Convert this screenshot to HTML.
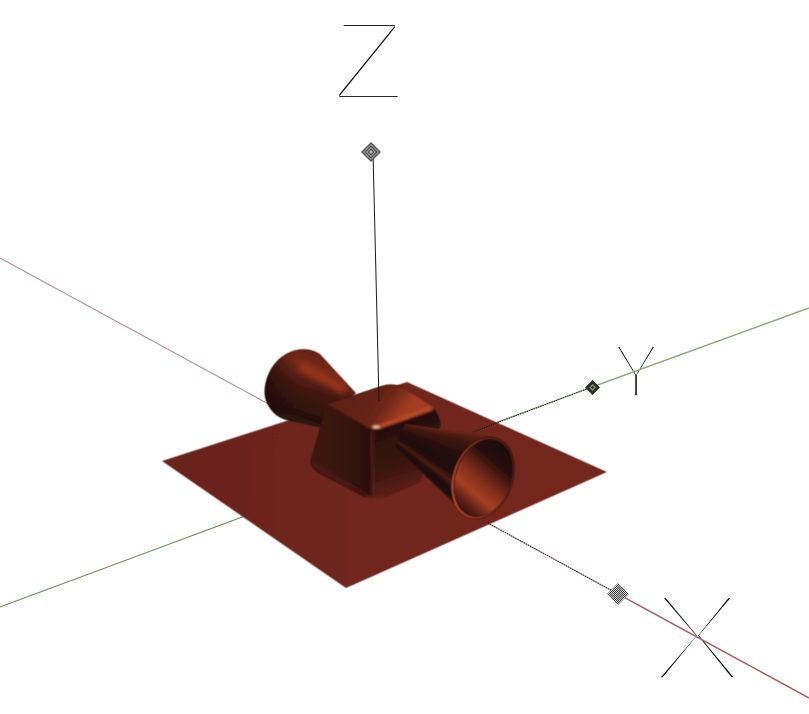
<!DOCTYPE html>
<html lang="en">
<head>
<meta charset="utf-8">
<title>3D model with axes</title>
<style>
html,body{margin:0;padding:0;background:#fff;}
svg{display:block;}
.lbl{font-family:"Liberation Sans",sans-serif;fill:#000;stroke:#fff;paint-order:fill stroke;stroke-linejoin:miter;text-anchor:middle;}
</style>
</head>
<body>
<svg width="809" height="714" viewBox="0 0 809 714" xmlns="http://www.w3.org/2000/svg">
<defs>
  <linearGradient id="gPlane" x1="162" y1="461" x2="607" y2="472" gradientUnits="userSpaceOnUse">
    <stop offset="0" stop-color="#6b241a"/><stop offset="1" stop-color="#74271b"/>
  </linearGradient>
  <linearGradient id="gBack" x1="312" y1="348" x2="284" y2="428" gradientUnits="userSpaceOnUse">
    <stop offset="0" stop-color="#5a2015"/><stop offset=".2" stop-color="#7a2a1a"/>
    <stop offset=".48" stop-color="#431811"/><stop offset=".8" stop-color="#27100c"/><stop offset="1" stop-color="#3b2220"/>
  </linearGradient>
  <linearGradient id="gBackEnd" x1="264" y1="390" x2="296" y2="390" gradientUnits="userSpaceOnUse">
    <stop offset="0" stop-color="#1d0c0a" stop-opacity=".65"/><stop offset="1" stop-color="#1d0c0a" stop-opacity="0"/>
  </linearGradient>
  <linearGradient id="gLeftFace" x1="315" y1="440" x2="372" y2="440" gradientUnits="userSpaceOnUse">
    <stop offset="0" stop-color="#3e1610"/><stop offset=".5" stop-color="#36140f"/><stop offset="1" stop-color="#2c100c"/>
  </linearGradient>
  <linearGradient id="gRightFace" x1="375" y1="430" x2="395" y2="495" gradientUnits="userSpaceOnUse">
    <stop offset="0" stop-color="#26100c"/><stop offset=".6" stop-color="#3a1610"/><stop offset="1" stop-color="#5e2015"/>
  </linearGradient>
  <linearGradient id="gTop" x1="350" y1="392" x2="395" y2="425" gradientUnits="userSpaceOnUse">
    <stop offset="0" stop-color="#5e2115"/><stop offset=".6" stop-color="#682517"/><stop offset="1" stop-color="#a23c24"/>
  </linearGradient>
  <linearGradient id="gInner" x1="497" y1="442" x2="468" y2="516" gradientUnits="userSpaceOnUse">
    <stop offset="0" stop-color="#1c0b08"/><stop offset=".25" stop-color="#2a100b"/>
    <stop offset=".5" stop-color="#7c2c1a"/><stop offset=".7" stop-color="#a63e24"/>
    <stop offset=".87" stop-color="#5a2014"/><stop offset="1" stop-color="#2a100b"/>
  </linearGradient>
  <linearGradient id="gRim" x1="450" y1="500" x2="515" y2="455" gradientUnits="userSpaceOnUse">
    <stop offset="0" stop-color="#c04a2c"/><stop offset=".4" stop-color="#7a2c1c"/><stop offset="1" stop-color="#3a1510"/>
  </linearGradient>
  <filter id="soft" x="-5%" y="-5%" width="110%" height="110%"><feGaussianBlur stdDeviation=".5"/></filter>
  <filter id="blur3" x="-40%" y="-40%" width="180%" height="180%"><feGaussianBlur stdDeviation="3"/></filter>
  <filter id="blur2" x="-30%" y="-30%" width="160%" height="160%"><feGaussianBlur stdDeviation="2"/></filter>
  <filter id="blur1" x="-30%" y="-30%" width="160%" height="160%"><feGaussianBlur stdDeviation="1"/></filter>
  <pattern id="checker" width="2" height="2" patternUnits="userSpaceOnUse">
    <rect width="2" height="2" fill="#ccc"/><rect width="1" height="1" fill="#444"/><rect x="1" y="1" width="1" height="1" fill="#444"/>
  </pattern>
  <clipPath id="clipBack"><path d="M356,393 L320,354 C308,346 292,348 280,358 C266,370 261,392 267,403 C272,414 280,419 290,421 L322,428 Z"/></clipPath>
  <clipPath id="clipCube"><path d="M327,404 L381,386 Q393,382 405,388 L430,404 Q437,409 441,424 L420,482 L385,497 Q372,501 360,495 L318,473 Q308,466 311,458 L324,414 Q325,406 327,404 Z"/></clipPath>
</defs>

<rect width="809" height="714" fill="#fff"/>

<g>
  <text class="lbl" transform="translate(368.5,101) scale(1.05,1)" font-size="116" stroke-width="8">Z</text>
  <text class="lbl" transform="translate(636,398) scale(.93,1)" font-size="78" stroke-width="5.6">Y</text>
  <text class="lbl" transform="translate(697,682) scale(1.17,1)" font-size="129" stroke-width="9.5">X</text>
</g>

<line x1="0" y1="258" x2="618" y2="594" stroke="#b48c9a" stroke-width="1.1"/>
<line x1="618" y1="594" x2="809" y2="698" stroke="#a85c64" stroke-width="1.5"/>
<line x1="0" y1="607" x2="592" y2="387" stroke="#6f9058" stroke-width="1.1"/>
<line x1="592" y1="387" x2="809" y2="308" stroke="#92a878" stroke-width="1.5"/>

<polygon points="162,461 346,588 607,472 407,382" fill="url(#gPlane)" filter="url(#soft)"/>

<line x1="473" y1="432" x2="592" y2="387" stroke="#111" stroke-width="1" stroke-dasharray="1.2 1.2"/>
<line x1="488" y1="523" x2="618" y2="594" stroke="#111" stroke-width="1" stroke-dasharray="1.2 1.2"/>

<g filter="url(#soft)">
  <path d="M356,393 L320,354 C308,346 292,348 280,358 C266,370 261,392 267,403 C272,414 280,419 290,421 L322,428 Z" fill="url(#gBack)"/>
  <g clip-path="url(#clipBack)">
    <path d="M345,390 L300,366" stroke="#96361f" stroke-width="9" fill="none" filter="url(#blur3)"/>
    <path d="M320,354 C308,346 292,348 280,358 C266,370 261,392 267,403 C272,414 280,419 290,421 L300,400 Z" fill="url(#gBackEnd)"/>
  </g>
</g>

<g filter="url(#soft)">
  <path d="M327,404 L381,386 Q393,382 405,388 L430,404 Q437,409 441,424 L420,482 L385,497 Q372,501 360,495 L318,473 Q308,466 311,458 L324,414 Q325,406 327,404 Z" fill="url(#gLeftFace)"/>
  <g clip-path="url(#clipCube)">
    <path d="M377,428 L434,408 L441,424 L420,482 L385,497 Q376,500 372,498 Z" fill="url(#gRightFace)"/>
    <path d="M312,464 L366,496" stroke="#4e1c13" stroke-width="4" fill="none" filter="url(#blur2)"/>
    <path d="M366,496 Q374,500 384,496" stroke="#642416" stroke-width="3" fill="none" filter="url(#blur1)"/>
    <path d="M327,404 L381,386 Q393,382 405,388 L430,404 Q437,408 432,411 L382,428 Q374,431 367,427 Z" fill="url(#gTop)" filter="url(#blur1)"/>
    <path d="M371,430 Q373,470 374,497" fill="none" stroke="#52201a" stroke-width="4" filter="url(#blur2)"/>
    <path d="M378,427 L430,408" fill="none" stroke="#b8482c" stroke-width="3.5" filter="url(#blur1)"/>
  </g>
  <ellipse cx="376" cy="427" rx="4" ry="1.8" fill="#f3c4b4" filter="url(#blur1)"/>
</g>

<line x1="373" y1="152" x2="379" y2="401" stroke="#1a1a1a" stroke-width="1"/>

<g id="frontCone" filter="url(#soft)"></g>

<g>
  <polygon points="371,142 381,152 371,162 361,152" fill="#555"/>
  <polygon points="371,144 379,152 371,160 363,152" fill="#9a9a9a"/>
  <polygon points="371,145.5 377.5,152 371,158.5 364.5,152" fill="#444"/>
  <polygon points="371,147 376,152 371,157 366,152" fill="#aaa"/>
  <polygon points="371,148.5 374.5,152 371,155.5 367.5,152" fill="#444"/>
  <polygon points="371,150 373,152 371,154 369,152" fill="#bbb"/>
</g>
<g>
  <polygon points="592.5,380 600,387.5 592.5,395 585,387.5" fill="#2b2b2b"/>
  <polygon points="592.5,384 596,387.5 592.5,391 589,387.5" fill="#7f8f68"/>
  <polygon points="592.5,386 594,387.5 592.5,389 591,387.5" fill="#222"/>
</g>
<g>
  <polygon points="618,583 629,594 618,605 607,594" fill="url(#checker)"/>
</g>

<script>
var NS = 'http://www.w3.org/2000/svg';
// Shading across the front cone, from its upper edge to its lower edge.
var coneShadeOffsets = [0, 0.06, 0.16, 0.35, 0.55, 0.66, 0.76, 0.86, 0.94, 1];
var coneShadeColors = ['#642417', '#4e1c13', '#3a1610', '#27100c', '#1d0b09', '#241009', '#4e1c12', '#1e0b08', '#1c0a08', '#3a1a14'];
var cone = document.getElementById('frontCone');
function mix(a, b, t) {
  var pa = parseInt(a.slice(1), 16), pb = parseInt(b.slice(1), 16), out = [];
  for (var s = 16; s >= 0; s -= 8) {
    out.push(Math.round(((pa >> s) & 255) * (1 - t) + ((pb >> s) & 255) * t));
  }
  return 'rgb(' + out.join(',') + ')';
}
function shade(t) {
  for (var i = 1; i < coneShadeOffsets.length; i++) {
    if (t <= coneShadeOffsets[i]) {
      return mix(coneShadeColors[i - 1], coneShadeColors[i], (t - coneShadeOffsets[i - 1]) / (coneShadeOffsets[i] - coneShadeOffsets[i - 1]));
    }
  }
  return coneShadeColors[coneShadeColors.length - 1];
}
var STRIPS = 60;
for (var k = 0; k < STRIPS; k++) {
  var a = k / STRIPS, b = (k + 1.3) / STRIPS;
  var pts = [[405 - 10 * a, 424 + 23 * a], [497 - 27 * a, 437 + 81 * a], [497 - 27 * b, 437 + 81 * b], [405 - 10 * b, 424 + 23 * b]];
  var strip = document.createElementNS(NS, 'polygon');
  strip.setAttribute('points', pts.map(function (p) { return p.join(','); }).join(' '));
  strip.setAttribute('fill', shade(a));
  
  
  cone.appendChild(strip);
}
var rimParts = [
  ['cone-rim', 483, 30, 42.5, '#2a100c', 'none', 0],
  ['cone-interior', 483.5, 27.5, 39.5, 'url(#gInner)', 'none', 0],
  ['cone-rim-highlight', 483, 28.8, 41, 'none', 'url(#gRim)', 2]
];
rimParts.forEach(function (r) {
  var e = document.createElementNS(NS, 'ellipse');
  e.setAttribute('cx', r[1]);
  e.setAttribute('cy', 478);
  e.setAttribute('rx', r[2]);
  e.setAttribute('ry', r[3]);
  e.setAttribute('transform', 'rotate(20 ' + r[1] + ' 478)');
  e.setAttribute('fill', r[4]);
  e.setAttribute('stroke', r[5]);
  e.setAttribute('stroke-width', r[6]);
  
  
  cone.appendChild(e);
});
</script>
</svg>
</body>
</html>
